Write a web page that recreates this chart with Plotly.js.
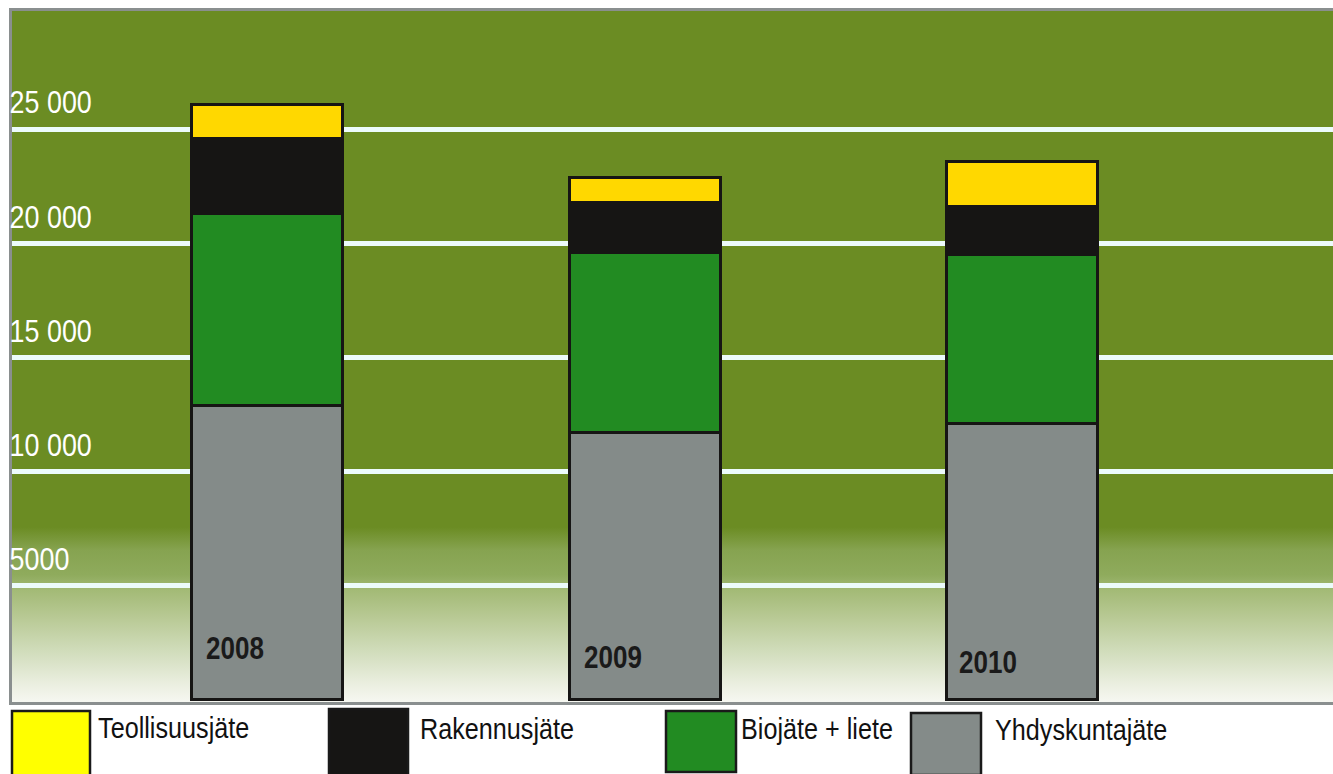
<!DOCTYPE html>
<html>
<head>
<meta charset="utf-8">
<script src="https://cdn.plot.ly/plotly-3.0.1.min.js"></script>
<style>
html,body{margin:0;padding:0;background:#fff;}
#chart{width:1333px;height:774px;}
</style>
</head>
<body>
<div id="chart"></div>
<script>
// ---- data ----
const years = [2008, 2009, 2010];
const seriesNames = ["Yhdyskuntajäte", "Biojäte + liete", "Rakennusjäte", "Teollisuusjäte"];
const yhdyskuntajate = [12900, 11700, 12100];
const biojateLiete = [8400, 7900, 7400];
const rakennusjate = [3300, 2200, 2100];
const teollisuusjate = [1500, 1100, 2000];
const tickValues = [5000, 10000, 15000, 20000, 25000];
const tickLabels = ["5000", "10 000", "15 000", "20 000", "25 000"];
const legendOrder = ["Teollisuusjäte", "Rakennusjäte", "Biojäte + liete", "Yhdyskuntajäte"];

// ---- styles ----
const barColors = {
  "Yhdyskuntajäte": "#848b89",
  "Biojäte + liete": "#228b22",
  "Rakennusjäte": "#161514",
  "Teollisuusjäte": "#ffd800"
};
const legendColors = {
  "Yhdyskuntajäte": "#848b89",
  "Biojäte + liete": "#228b22",
  "Rakennusjäte": "#161514",
  "Teollisuusjäte": "#ffff00"
};
const FONT = "'Liberation Sans', Arial, sans-serif";
const NARROW = 0.84; // horizontal condensing to mimic a narrow face
const W = 1333, H = 774;
const M = {l: 12, r: 0, t: 11, b: 72};
const plotW = W - M.l - M.r, plotH = H - M.t - M.b;
function px(X) { return (X - M.l) / plotW; }
function py(Y) { return (H - M.b - Y) / plotH; }

const seriesValues = [yhdyskuntajate, biojateLiete, rakennusjate, teollisuusjate];
const traces = seriesNames.map((name, i) => ({
  type: "bar",
  name: name,
  x: years,
  y: seriesValues[i],
  width: 0.4,
  marker: {color: barColors[name], line: {color: "#161514", width: 3}},
  showlegend: false,
  hoverinfo: "skip"
}));

// background gradient as an SVG image
const gradStops = [
  [0, "#6b8c23"], [0.747, "#6b8c23"], [0.78, "#86a350"], [0.816, "#8fab5d"],
  [0.838, "#a3ba76"], [0.877, "#b8c994"], [0.925, "#d0dcba"], [0.973, "#eaeedf"], [1, "#f6f7f1"]
];
const grad = '<svg xmlns="http://www.w3.org/2000/svg" width="100" height="100" preserveAspectRatio="none">' +
  '<defs><linearGradient id="g" x1="0" y1="0" x2="0" y2="1">' +
  gradStops.map(s => '<stop offset="' + s[0] + '" stop-color="' + s[1] + '"/>').join("") +
  '</linearGradient></defs><rect x="0" y="0" width="100" height="100" fill="url(#g)"/></svg>';
const gradURI = "data:image/svg+xml;charset=utf-8," + encodeURIComponent(grad);

// year labels inside the bars
const yearLabelY = [648, 657, 662];
const yearLabelShift = [-63, -63, -65];
const annotations = years.map((yr, i) => ({
  x: yr, xref: "x", xanchor: "left", xshift: yearLabelShift[i],
  y: py(yearLabelY[i]), yref: "paper", yanchor: "middle",
  text: "<b>" + String(yr) + "</b>", showarrow: false,
  font: {family: FONT, size: 31, color: "#1a1a1a"}
}));

// custom legend
const legendBoxes = [
  {x0: 12, x1: 90, y0: 711, y1: 776, tx: 96, ty: 727},
  {x0: 329, x1: 408, y0: 709, y1: 776, tx: 418, ty: 728},
  {x0: 666, x1: 736, y0: 711, y1: 772, tx: 739, ty: 728},
  {x0: 911, x1: 981, y0: 713, y1: 775, tx: 993, ty: 730}
];
const shapes = [];
legendOrder.forEach((name, i) => {
  const b = legendBoxes[i];
  shapes.push({type: "rect", xref: "paper", yref: "paper",
    x0: px(b.x0), x1: px(b.x1), y0: py(b.y0), y1: py(b.y1),
    fillcolor: legendColors[name], line: {color: "#1a1a1a", width: 2.5}});
  annotations.push({x: px(b.tx), xref: "paper", xanchor: "left",
    y: py(b.ty), yref: "paper", yanchor: "middle", text: name, showarrow: false,
    font: {family: FONT, size: 30, color: "#111"}});
});

const layout = {
  width: W, height: H,
  margin: M,
  paper_bgcolor: "#ffffff",
  plot_bgcolor: "rgba(0,0,0,0)",
  barmode: "stack",
  showlegend: false,
  xaxis: {
    range: [2007.3242, 2010.8236],
    showticklabels: false, ticks: "", showgrid: false, zeroline: false,
    showline: true, mirror: true, linecolor: "#8a8f8f", linewidth: 3
  },
  yaxis: {
    range: [-88, 30177],
    tickvals: tickValues, ticktext: tickLabels,
    ticklabelposition: "inside", ticklabelshift: -27, ticklabelstandoff: 1, ticks: "",
    tickfont: {family: FONT, size: 32, color: "#ffffff"},
    showgrid: true, gridcolor: "#ecfbfb", gridwidth: 5, zeroline: false,
    showline: true, mirror: true, linecolor: "#8a8f8f", linewidth: 3
  },
  images: [{source: gradURI, xref: "paper", yref: "paper", x: 0, y: 1,
    sizex: 1, sizey: 1, xanchor: "left", yanchor: "top", sizing: "stretch", layer: "below"}],
  shapes: shapes,
  annotations: annotations
};

function condense(gd) {
  const nodes = gd.querySelectorAll("text.annotation-text, g.ytick text");
  nodes.forEach(t => {
    const bb = t.getBBox();
    const L = bb.x;
    const prev = t.getAttribute("transform") || "";
    t.setAttribute("transform", prev + " translate(" + (L * (1 - NARROW)) + ",0) scale(" + NARROW + ",1)");
  });
}

Plotly.newPlot("chart", traces, layout, {displayModeBar: false, staticPlot: true})
  .then(gd => condense(gd));
</script>
</body>
</html>
